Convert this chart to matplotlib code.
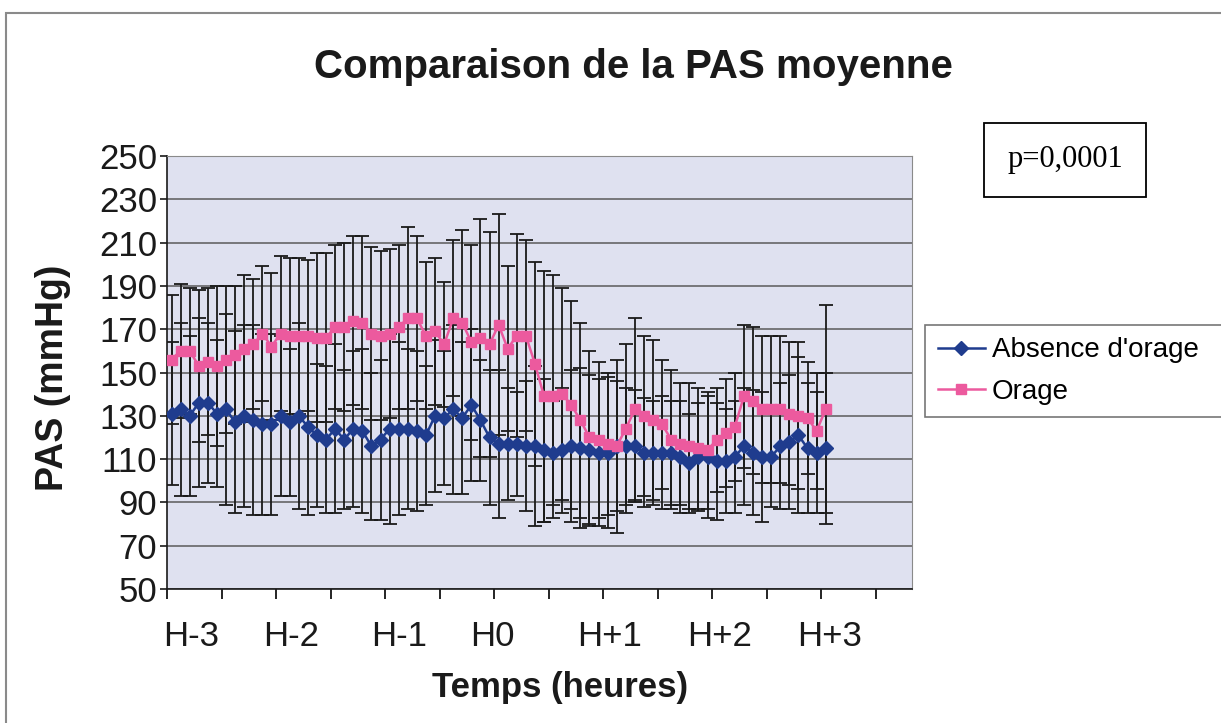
import matplotlib.pyplot as plt
from matplotlib.patches import Rectangle

# Mean systolic pressure every 5 minutes, from H-3 to H+3 (73 points)
absence = [131, 133, 130, 136, 136, 131, 133, 127, 130, 128,
           126, 126, 130, 127, 130, 125, 121, 119, 124, 119,
           124, 123, 116, 119, 124, 124, 124, 123, 121, 130,
           129, 133, 129, 135, 128, 120, 117, 117, 117, 116,
           116, 114, 113, 114, 116, 115, 114, 113, 113, 116,
           116, 116, 113, 113, 113, 113, 111, 108, 111, 111,
           109, 109, 111, 116, 113, 111, 111, 116, 118, 121,
           115, 113, 115]
orage = [156, 160, 160, 153, 155, 153, 156, 158, 161, 163,
         168, 162, 168, 167, 167, 167, 166, 166, 171, 171,
         174, 173, 168, 167, 168, 171, 175, 175, 167, 169,
         163, 175, 173, 164, 166, 163, 172, 161, 167, 167,
         154, 139, 139, 140, 135, 128, 120, 119, 117, 116,
         124, 133, 130, 128, 126, 119, 117, 116, 115, 114,
         119, 122, 125, 139, 137, 133, 133, 133, 131, 130,
         129, 123, 133]

# Standard deviations (error bars)
absence_sd = [33, 40, 37, 39, 37, 34, 44, 42, 42, 44,
              42, 42, 37, 34, 43, 41, 33, 34, 39, 32,
              36, 38, 34, 37, 44, 40, 37, 37, 32, 35,
              31, 39, 35, 35, 28, 31, 34, 26, 24, 30,
              37, 33, 24, 29, 35, 37, 35, 34, 35, 30,
              27, 26, 25, 24, 26, 24, 26, 23, 25, 28,
              27, 24, 26, 27, 29, 30, 23, 29, 31, 36,
              30, 28, 35]
orage_sd = [30, 31, 29, 35, 34, 37, 34, 32, 34, 30,
            31, 34, 36, 36, 36, 35, 39, 39, 38, 39,
            39, 40, 40, 39, 39, 38, 42, 38, 34, 34,
            29, 36, 43, 45, 55, 52, 51, 38, 47, 44,
            47, 58, 56, 49, 48, 45, 40, 36, 33, 40,
            39, 42, 37, 37, 30, 32, 28, 29, 28, 27,
            24, 25, 25, 33, 34, 34, 34, 34, 33, 34,
            26, 27, 48]

x_labels = ["H-3", "H-2", "H-1", "H0", "H+1", "H+2", "H+3"]
n_categories = 82


def main():
    fig = plt.figure(figsize=(12.21, 7.23), dpi=100)
    plt.rcParams['font.family'] = ['Liberation Sans', 'DejaVu Sans']

    # Outer chart border
    fig.add_artist(Rectangle((6 / 1221, -0.1), 1.2, (723 - 13) / 723 + 0.1,
                             transform=fig.transFigure, fill=False,
                             edgecolor="#8a8a8a", linewidth=1.5))

    ax = fig.add_axes([167 / 1221, 134 / 723, 745 / 1221, 433 / 723])
    ax.set_facecolor("#dfe1f0")

    x = list(range(len(absence)))

    # Error bars first, then the series on top
    ax.errorbar(x, orage, yerr=orage_sd, fmt="none", ecolor="#1a1a1a",
                elinewidth=1.3, capsize=5, capthick=1.3, zorder=2)
    ax.errorbar(x, absence, yerr=absence_sd, fmt="none", ecolor="#1a1a1a",
                elinewidth=1.3, capsize=5, capthick=1.3, zorder=2)
    ax.plot(x, absence, color="#1f3c8e", marker="D", markersize=7,
            linewidth=1.8, label="Absence d'orage", zorder=3)
    ax.plot(x, orage, color="#ec5a9e", marker="s", markersize=7,
            linewidth=1.8, label="Orage", zorder=3)

    # Axes limits and grid
    ax.set_xlim(-0.5, n_categories - 0.5)
    ax.set_ylim(50, 250)
    ax.set_yticks(range(50, 251, 20))
    ax.yaxis.grid(True, color="#5a5a5a", linewidth=1.1)
    ax.set_axisbelow(True)
    ax.tick_params(axis="y", labelsize=25, length=5, width=1.2, pad=2,
                   colors="#1a1a1a")

    # Tick marks every 6 categories (30 min), labels every hour
    ax.set_xticks([k * 6 - 0.5 for k in range(14)])
    ax.tick_params(axis="x", which="major", length=7, width=1.2,
                   labelbottom=False)
    ax.set_xticks([2.2, 13.2, 25.1, 35.3, 48.2, 60.3, 72.4], x_labels,
                  minor=True)
    ax.tick_params(axis="x", which="minor", length=0, labelsize=25, pad=22,
                   colors="#1a1a1a")

    for side in ["top", "right"]:
        ax.spines[side].set_color("#8a8a8a")
    for side in ["left", "bottom"]:
        ax.spines[side].set_color("#1a1a1a")
        ax.spines[side].set_linewidth(1.2)

    # Titles
    fig.text(633 / 1221, 1 - 67 / 723, "Comparaison de la PAS moyenne",
             fontsize=29, fontweight="bold", ha="center", va="center",
             color="#1a1a1a")
    fig.text(560 / 1221, 1 - 688 / 723, "Temps (heures)", fontsize=25,
             fontweight="bold", ha="center", va="center", color="#1a1a1a")
    fig.text(53 / 1221, 1 - 378 / 723, "PAS (mmHg)", fontsize=27,
             fontweight="bold", ha="center", va="center", rotation=90,
             color="#1a1a1a")

    # p-value box
    fig.text(1065 / 1221, 1 - 160 / 723, "p=0,0001",
             family="Liberation Serif", fontsize=22, ha="center",
             va="center",
             bbox=dict(boxstyle="square,pad=0.75", facecolor="white",
                       edgecolor="black", linewidth=1.3))

    # Legend (its frame runs past the right edge, as in the original)
    leg = fig.legend(loc="upper left",
                     bbox_to_anchor=(925 / 1221, 1 - 415 / 723,
                                     320 / 1221, 90 / 723),
                     mode="expand", fontsize=20, frameon=True,
                     fancybox=False, edgecolor="#555555", handlelength=1.7,
                     handletextpad=0.25, labelspacing=0.55, borderpad=0.45,
                     borderaxespad=0)
    leg.get_frame().set_linewidth(1.2)

    plt.savefig("out.png", dpi=100)


main()
